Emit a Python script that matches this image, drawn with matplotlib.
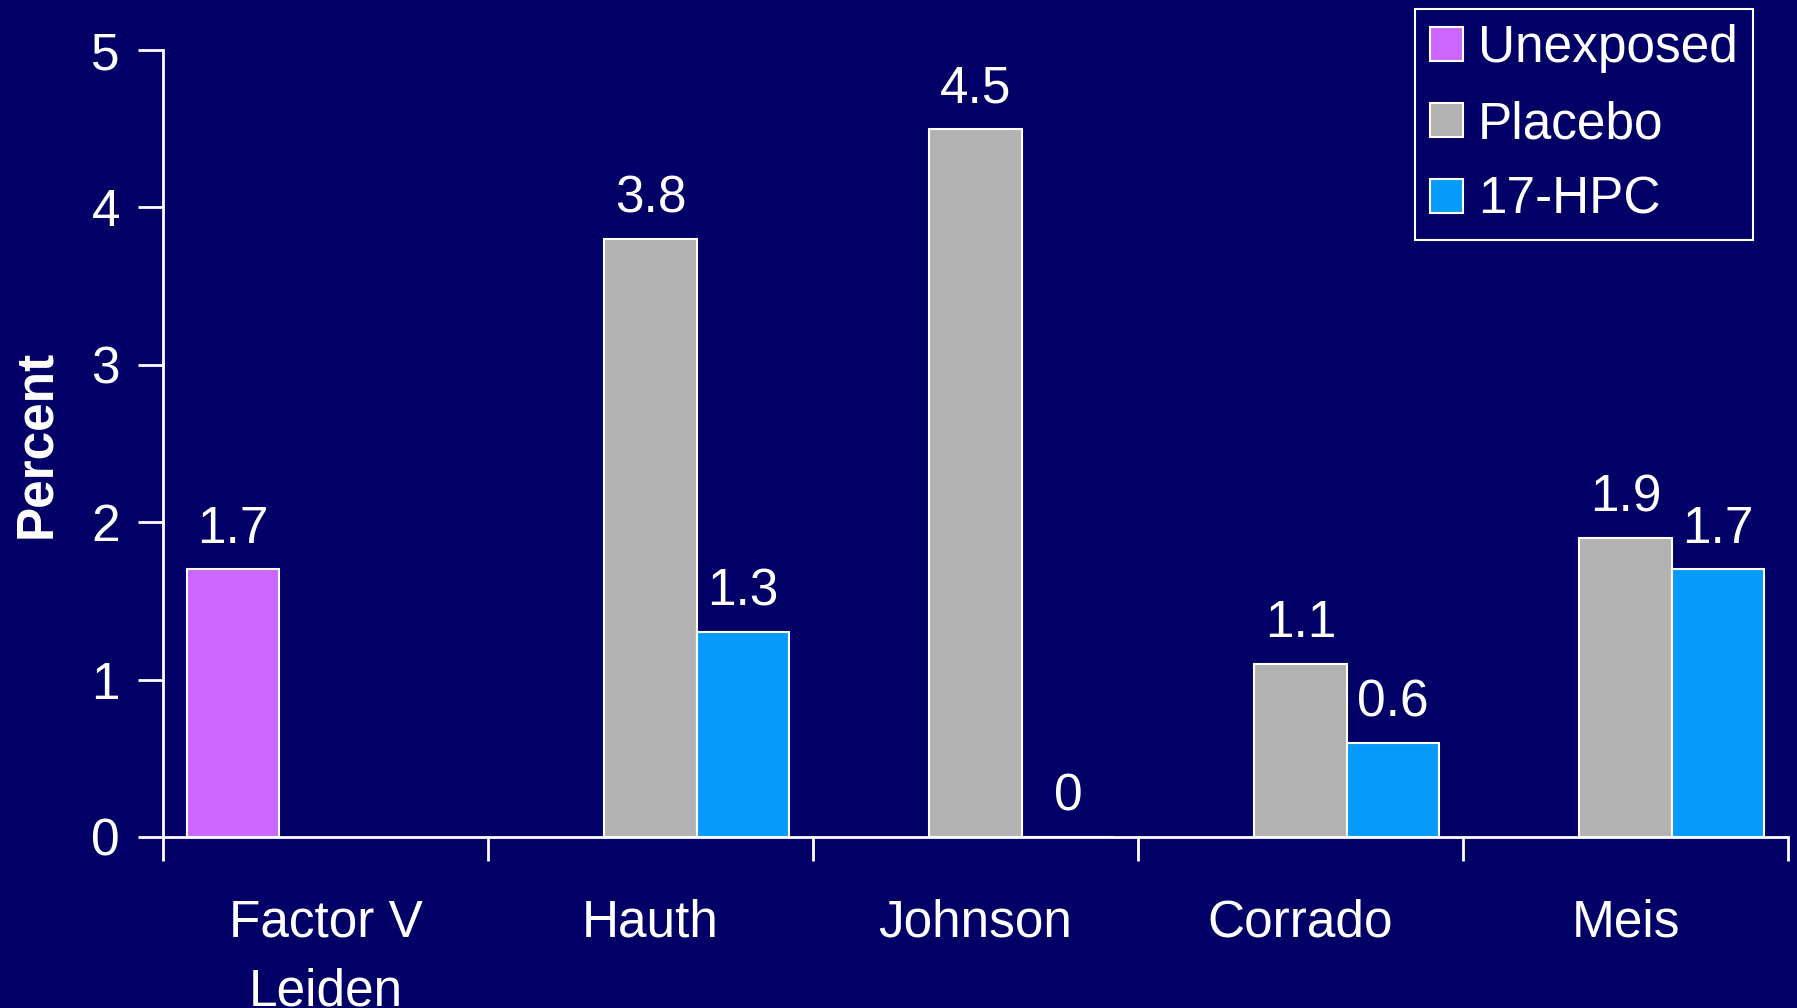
import matplotlib
matplotlib.use('Agg')
import matplotlib.pyplot as plt
import numpy as np

# study groups and rates (percent); nan = no bar for that group
studies = ['Factor V\nLeiden', 'Hauth', 'Johnson', 'Corrado', 'Meis']
unexposed = [1.7, np.nan, np.nan, np.nan, np.nan]
placebo = [np.nan, 3.8, 4.5, 1.1, 1.9]
hpc17 = [np.nan, 1.3, 0.0, 0.6, 1.7]
series_names = ['Unexposed', 'Placebo', '17-HPC']

bg = '#020066'
colours = ['#CC66FF', '#B2B2B2', '#069AFA']

plt.rcParams['font.family'] = ['Liberation Sans', 'DejaVu Sans']

fig = plt.figure(figsize=(17.97, 10.08), dpi=100, facecolor=bg)
ax = fig.add_axes([163 / 1797, 171 / 1008, 1625 / 1797, 787 / 1008])
ax.set_facecolor(bg)

x = np.arange(len(studies))
w = 0.285
for i, (vals, name, col) in enumerate(zip([unexposed, placebo, hpc17],
                                           series_names, colours)):
    xs = x + (i - 1) * w
    ax.bar(xs, vals, width=w, color=col, edgecolor='white', linewidth=1.5,
           label=name)
    for xi, v in zip(xs, vals):
        if np.isnan(v):
            continue
        ax.annotate('{:g}'.format(v), (xi, v), xytext=(0, 19),
                    textcoords='offset points', ha='center', va='baseline',
                    color='white', fontsize=37)

ax.set_xlim(-0.5, len(studies) - 0.5)
ax.set_ylim(0, 5)
ax.set_yticks(range(6))

# group labels at centres, tick marks on the boundaries
ax.set_xticks(x)
ax.set_xticklabels(studies, linespacing=1.53)
ax.set_xticks(np.arange(len(studies) + 1) - 0.5, minor=True)
ax.tick_params(axis='x', which='major', length=0, pad=44)
ax.tick_params(axis='x', which='minor', length=17, width=2, color='white')
ax.tick_params(axis='y', length=18, width=2, color='white', pad=13)
ax.tick_params(labelsize=37, labelcolor='white')

for side in ['top', 'right']:
    ax.spines[side].set_visible(False)
for side in ['left', 'bottom']:
    ax.spines[side].set_color('white')
    ax.spines[side].set_linewidth(2)

ax.set_ylabel('Percent', fontsize=37, fontweight='bold', color='white',
              labelpad=22)

leg = ax.legend(loc='upper right', bbox_to_anchor=(1753 / 1797, 1 - 9 / 1008),
                bbox_transform=fig.transFigure, borderaxespad=0,
                fontsize=37, handlelength=0.64, handleheight=0.64,
                handletextpad=0.28, labelspacing=0.52, borderpad=0.3,
                fancybox=False, framealpha=1, facecolor=bg,
                edgecolor='white')
leg.get_frame().set_linewidth(1.5)
for t in leg.get_texts():
    t.set_color('white')

fig.savefig('out.png', dpi=100, facecolor=bg)
plt.close(fig)
